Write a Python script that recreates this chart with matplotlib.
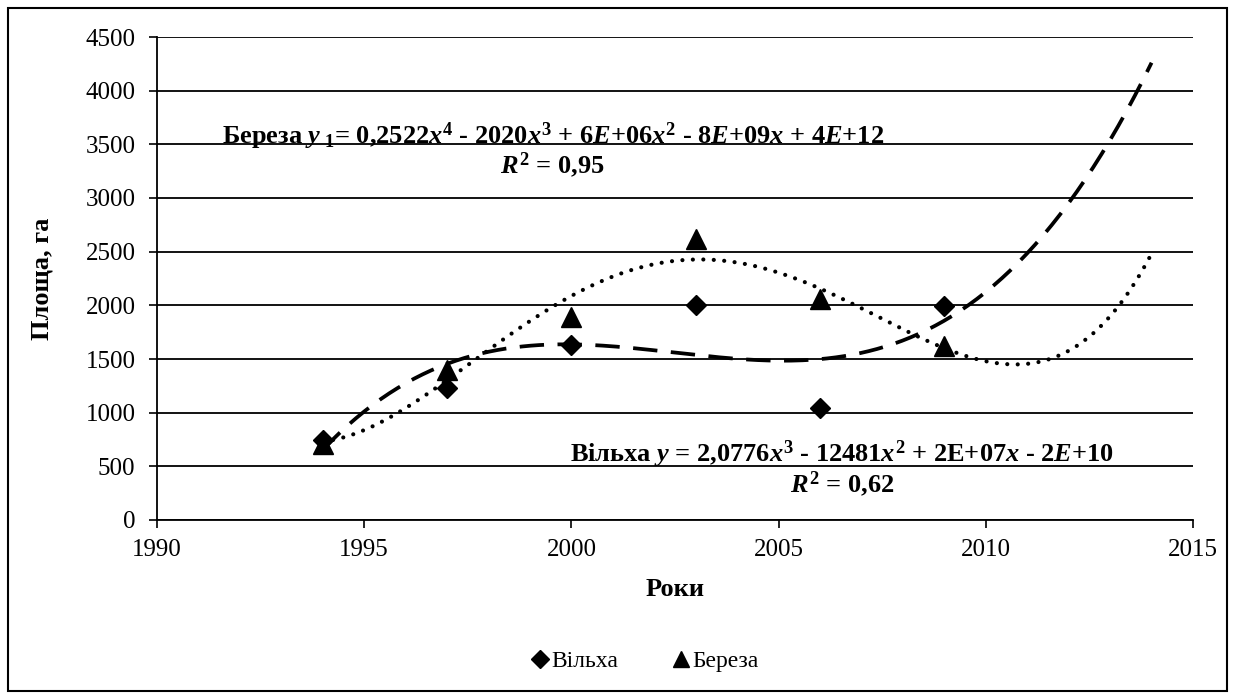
import numpy as np
import matplotlib
matplotlib.use("Agg")
import matplotlib.pyplot as plt
from matplotlib.patches import Rectangle

# data
years = [1994, 1997, 2000, 2003, 2006, 2009]
vilkha = [745, 1230, 1630, 2000, 1040, 1995]     # Вільха
bereza = [712, 1400, 1895, 2620, 2060, 1620]     # Береза
x_ticks = [1990, 1995, 2000, 2005, 2010, 2015]
y_ticks = [0, 500, 1000, 1500, 2000, 2500, 3000, 3500, 4000, 4500]
trend_end = 2014

plt.rcParams["font.family"] = ["Liberation Serif", "DejaVu Serif"]
plt.rcParams["mathtext.fontset"] = "custom"
plt.rcParams["mathtext.rm"] = "Liberation Serif:bold"
plt.rcParams["mathtext.it"] = "Liberation Serif:italic:bold"
plt.rcParams["mathtext.bf"] = "Liberation Serif:bold"

fig = plt.figure(figsize=(12.36, 6.93), dpi=100)
ax = fig.add_axes([157 / 1236, 1 - 520 / 693, (1193 - 157) / 1236, (520 - 37) / 693])

# polynomial trendlines (Excel style), fitted on shifted years for conditioning
xs = np.linspace(years[0], trend_end, 300)
t0 = 2000
p_v = np.polyfit(np.array(years) - t0, vilkha, 3)
p_b = np.polyfit(np.array(years) - t0, bereza, 4)
ax.plot(xs, np.polyval(p_v, xs - t0), color="black", lw=2.7, ls=(0, (6.5, 3.6)),
        dash_capstyle="butt", zorder=3)
ax.plot(xs, np.polyval(p_b, xs - t0), color="black", lw=3.0, ls=(0, (0.01, 2.5)),
        dash_capstyle="round", zorder=3)

ax.plot(years, vilkha, ls="none", marker="D", ms=10.5, color="black", label="Вільха", zorder=4)
ax.plot(years, bereza, ls="none", marker="^", ms=14, color="black", label="Береза", zorder=4)

ax.set_xlim(1990, 2015)
ax.set_ylim(0, 4500)
ax.set_xticks(x_ticks)
ax.set_yticks(y_ticks)
ax.tick_params(labelsize=18, direction="out", length=5.5, width=1.2, colors="black")
ax.tick_params(axis="y", pad=10)
ax.tick_params(axis="x", pad=8)
ax.grid(axis="y", color="black", lw=1.3)
ax.set_axisbelow(True)
for s in ["top", "right"]:
    ax.spines[s].set_visible(False)
for s in ["left", "bottom"]:
    ax.spines[s].set_linewidth(1.3)

ax.set_xlabel("Роки", fontsize=19, fontweight="bold")
ax.set_ylabel("Площа, га", fontsize=19, fontweight="bold")
ax.xaxis.set_label_coords(0.5, (520 - 590) / 483)
ax.xaxis.label.set_verticalalignment("center")
ax.yaxis.set_label_coords((42 - 157) / 1036, 0.5)
ax.yaxis.label.set_verticalalignment("center")

ax.text(1999.55, 3500,
        r"Береза $y_{\ 1}$= 0,2522$x^4$ - 2020$x^3$ + 6$E$+06$x^2$ - 8$E$+09$x$ + 4$E$+12",
        fontsize=19, fontweight="bold", ha="center", va="baseline", zorder=5)
ax.text(1999.55, 3230, r"$R^2$ = 0,95", fontsize=19, fontweight="bold",
        ha="center", va="baseline", zorder=5)
ax.text(2006.53, 540,
        r"Вільха $y$ = 2,0776$x^3$ - 12481$x^2$ + 2E+07$x$ - 2$E$+10",
        fontsize=19, fontweight="bold", ha="center", va="baseline", zorder=5)
ax.text(2006.53, 262, r"$R^2$ = 0,62", fontsize=19, fontweight="bold",
        ha="center", va="baseline", zorder=5)

leg = fig.legend(loc="center", bbox_to_anchor=(644 / 1236, 1 - 661 / 693), ncol=2,
                 frameon=False, fontsize=17, handletextpad=0.05, columnspacing=2.2,
                 markerscale=0.85, handlelength=0.9)

fig.add_artist(Rectangle((8 / 1236, 1 - 691 / 693), (1227 - 8) / 1236, (691 - 8) / 693,
                         transform=fig.transFigure, fill=False, ec="black", lw=1.5))

fig.savefig("out.png", dpi=100)
